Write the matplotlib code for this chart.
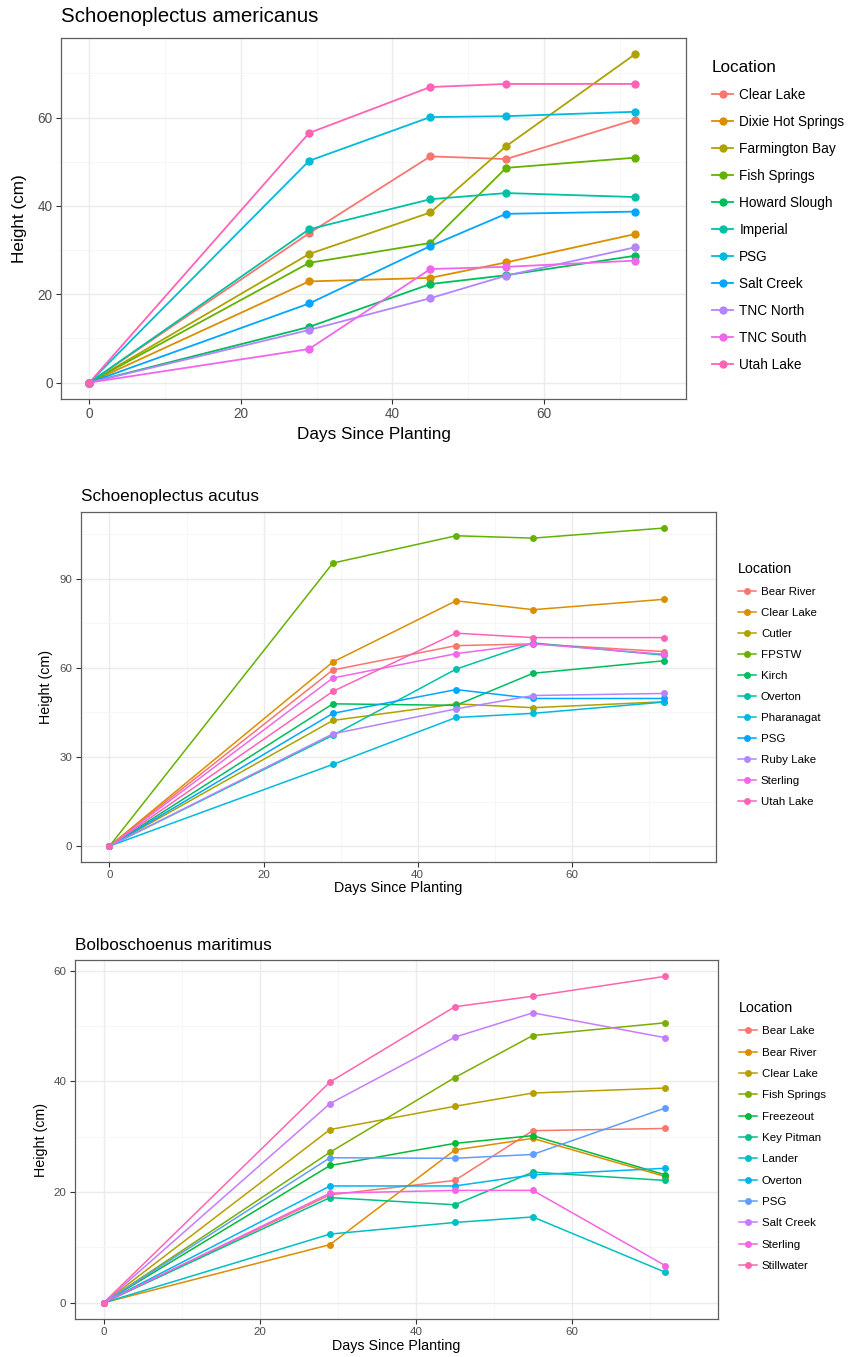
import matplotlib
matplotlib.use('Agg')
import matplotlib.pyplot as plt
from matplotlib.lines import Line2D

plt.rcParams['font.family'] = ['Liberation Sans', 'DejaVu Sans']

# days since planting (same for every species)
days = [0, 29, 45, 55, 72]

# Schoenoplectus americanus
am_locations = ['Clear Lake', 'Dixie Hot Springs', 'Farmington Bay', 'Fish Springs',
                'Howard Slough', 'Imperial', 'PSG', 'Salt Creek', 'TNC North',
                'TNC South', 'Utah Lake']
am_heights = [
    [0, 33.8, 51.2, 50.6, 59.5],
    [0, 22.9, 23.7, 27.2, 33.6],
    [0, 29.1, 38.5, 53.5, 74.3],
    [0, 27.1, 31.6, 48.6, 50.9],
    [0, 12.6, 22.3, 24.3, 28.7],
    [0, 34.7, 41.5, 42.9, 42.0],
    [0, 50.2, 60.1, 60.3, 61.3],
    [0, 17.9, 30.9, 38.2, 38.7],
    [0, 11.9, 19.1, 24.2, 30.6],
    [0, 7.6, 25.7, 26.2, 27.6],
    [0, 56.5, 66.9, 67.6, 67.6],
]

# Schoenoplectus acutus
ac_locations = ['Bear River', 'Clear Lake', 'Cutler', 'FPSTW', 'Kirch', 'Overton',
                'Pharanagat', 'PSG', 'Ruby Lake', 'Sterling', 'Utah Lake']
ac_heights = [
    [0, 59.3, 67.5, 68.1, 65.5],
    [0, 62.0, 82.6, 79.6, 83.1],
    [0, 42.3, 47.9, 46.6, 48.6],
    [0, 95.3, 104.5, 103.7, 107.1],
    [0, 47.9, 47.4, 58.2, 62.4],
    [0, 37.3, 59.6, 68.4, 64.3],
    [0, 27.5, 43.3, 44.7, 48.5],
    [0, 44.7, 52.7, 49.7, 49.7],
    [0, 37.8, 46.2, 50.7, 51.4],
    [0, 56.6, 64.8, 68.1, 64.6],
    [0, 52.1, 71.7, 70.2, 70.2],
]

# Bolboschoenus maritimus
bm_locations = ['Bear Lake', 'Bear River', 'Clear Lake', 'Fish Springs', 'Freezeout',
                'Key Pitman', 'Lander', 'Overton', 'PSG', 'Salt Creek', 'Sterling',
                'Stillwater']
bm_heights = [
    [0, 19.5, 22.1, 31.1, 31.5],
    [0, 10.5, 27.6, 29.7, 22.8],
    [0, 31.3, 35.5, 37.9, 38.8],
    [0, 27.2, 40.7, 48.3, 50.6],
    [0, 24.8, 28.8, 30.2, 23.1],
    [0, 19.0, 17.7, 23.6, 22.1],
    [0, 12.4, 14.5, 15.5, 5.5],
    [0, 21.1, 21.1, 23.1, 24.3],
    [0, 26.2, 26.1, 26.8, 35.2],
    [0, 36.0, 48.0, 52.4, 47.9],
    [0, 19.8, 20.3, 20.3, 6.7],
    [0, 39.9, 53.5, 55.4, 59.0],
]

hue11 = ['#F8766D', '#DB8E00', '#AEA200', '#64B200', '#00BD5C', '#00C1A7',
         '#00BADE', '#00A6FF', '#B385FF', '#EF67EB', '#FF63B6']
hue12 = ['#F8766D', '#DE8C00', '#B79F00', '#7CAE00', '#00BA38', '#00C08B',
         '#00BFC4', '#00B4F0', '#619CFF', '#C77CFF', '#F564E3', '#FF64B0']

W, H = 850, 1357
fig = plt.figure(figsize=(W / 100, H / 100), dpi=100)


def fx(x):
    return x / W


def fy(y):
    return 1 - y / H


def draw_panel(box, title, locations, heights, colors, ylim, yticks, yminor,
               base, lw, ms, title_y, ylab_x, xlab_y, leg_xy, leg_space):
    left, top, right, bottom = box
    ax = fig.add_axes([fx(left), fy(bottom), (right - left) / W, (bottom - top) / H])

    for vals, c in zip(heights, colors):
        ax.plot(days, vals, color=c, lw=lw, zorder=2)
    for vals, c in zip(heights, colors):
        ax.plot(days, vals, 'o', color=c, ms=ms, mew=0, zorder=3)

    ax.set_xlim(-3.75, 78.75)
    ax.set_ylim(*ylim)
    ax.set_xticks([0, 20, 40, 60])
    ax.set_xticks([10, 30, 50, 70], minor=True)
    ax.set_yticks(yticks)
    ax.set_yticks(yminor, minor=True)
    ax.tick_params(which='major', length=3.4, width=0.8, color='#333333',
                   labelsize=base * 0.8, labelcolor='#4D4D4D', pad=2.6)
    ax.tick_params(which='minor', length=0)
    ax.grid(which='major', color='#EBEBEB', lw=1.0)
    ax.grid(which='minor', color='#F5F5F5', lw=0.6)
    ax.set_axisbelow(True)
    for s in ax.spines.values():
        s.set_color('#5E5E5E')
        s.set_linewidth(0.9)

    fig.text(fx(left), fy(title_y), title, fontsize=base * 1.2, va='center', ha='left')
    fig.text(fx((left + right) / 2), fy(xlab_y), 'Days Since Planting',
             fontsize=base, ha='center', va='center')
    fig.text(fx(ylab_x), fy((top + bottom) / 2), 'Height (cm)', fontsize=base,
             rotation=90, ha='center', va='center')

    handles = [Line2D([0], [0], color=c, lw=lw, marker='o', ms=ms, mew=0)
               for c in colors]
    ax.legend(handles, locations, title='Location', loc='upper left',
              bbox_to_anchor=(fx(leg_xy[0]), fy(leg_xy[1])),
              bbox_transform=fig.transFigure, frameon=False,
              fontsize=base * 0.8, title_fontsize=base, numpoints=1,
              handlelength=1.55, handletextpad=0.45, labelspacing=leg_space,
              borderpad=0, borderaxespad=0, alignment='left')
    return ax


draw_panel((61, 38, 686, 399), 'Schoenoplectus americanus', am_locations, am_heights,
           hue11, (-3.72, 78.0), [0, 20, 40, 60], [10, 30, 50, 70],
           12.3, 1.3, 6.0, 17, 20, 434, (712, 60), 0.95)

draw_panel((80.6, 512, 716, 862), 'Schoenoplectus acutus', ac_locations, ac_heights,
           hue11, (-5.36, 112.5), [0, 30, 60, 90], [15, 45, 75, 105],
           10.3, 1.1, 5.0, 496, 46, 888, (738, 562), 0.96)

draw_panel((74.6, 960, 718, 1319), 'Bolboschoenus maritimus', bm_locations, bm_heights,
           hue12, (-2.95, 61.95), [0, 20, 40, 60], [10, 30, 50],
           10.3, 1.1, 5.0, 946, 40.5, 1346, (739, 1001), 0.99)

fig.savefig('out.png', dpi=100)
